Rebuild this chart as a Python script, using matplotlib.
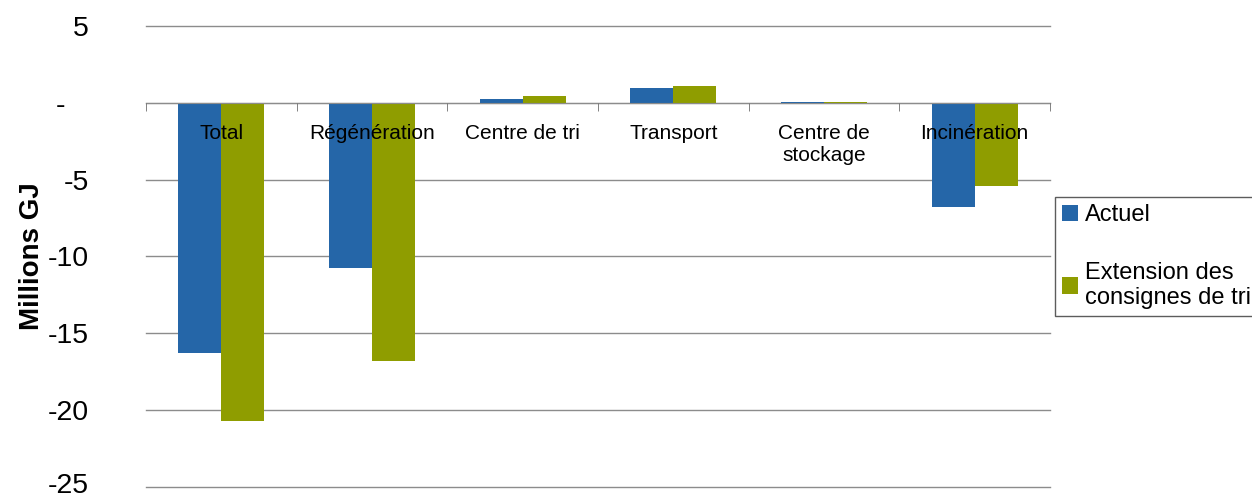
import matplotlib.pyplot as plt
import matplotlib.transforms as mtransforms
import numpy as np

# données
categories = ["Total", "Régénération", "Centre de tri", "Transport", "Centre de\nstockage", "Incinération"]
actuel = [-16.3, -10.75, 0.26, 0.98, 0.06, -6.8]
extension = [-20.7, -16.8, 0.45, 1.1, 0.05, -5.4]
yticks = [5, 0, -5, -10, -15, -20, -25]
ytick_labels = ["5", "-   ", "-5", "-10", "-15", "-20", "-25"]

plt.rcParams["font.family"] = ["Liberation Sans", "DejaVu Sans"]

fig = plt.figure(figsize=(12.52, 4.98), dpi=100, facecolor="white")
ax = fig.add_axes([0.1166, 0.0221, 0.7221, 0.9257])

x = np.arange(len(categories))
w = 0.285
ax.bar(x - w / 2, actuel, width=w, color="#2566A8", label="Actuel", zorder=1)
ax.bar(x + w / 2, extension, width=w, color="#8F9D00",
       label="Extension des\nconsignes de tri", zorder=1)

ax.set_xlim(-0.5, len(categories) - 0.5)
ax.set_ylim(-25, 5)

# quadrillage derrière les barres
for yv in yticks:
    ax.axhline(yv, color="#8c8c8c", linewidth=1, zorder=0, clip_on=False)
ax.set_axisbelow(False)

# axe y
ax.set_yticks(yticks)
ax.set_yticklabels(ytick_labels, fontsize=20.5)
ax.tick_params(axis="y", length=0, pad=41)
ax.set_ylabel("Millions GJ", fontsize=20, fontweight="bold")
ax.yaxis.set_label_coords(-0.112, 0.5)
# remonter un peu le dernier libellé pour qu'il ne soit pas coupé
lab = ax.get_yticklabels()[-1]
lab.set_transform(lab.get_transform() + mtransforms.ScaledTranslation(0, 3 / 72, fig.dpi_scale_trans))

# axe x sur la ligne zéro
for s in ["left", "right", "top"]:
    ax.spines[s].set_visible(False)
ax.spines["bottom"].set_position(("data", 0))
ax.spines["bottom"].set_color("#8c8c8c")
ax.set_xticks(x)
ax.set_xticklabels(categories, fontsize=15, va="top")
ax.tick_params(axis="x", length=0, pad=15)
ax.set_xticks(np.arange(len(categories) + 1) - 0.5, minor=True)
ax.tick_params(axis="x", which="minor", length=6, color="#6e6e6e", direction="out")

leg = ax.legend(loc="center left", bbox_to_anchor=(1.005, 0.5), fontsize=17,
                frameon=True, fancybox=False, edgecolor="#333333",
                handlelength=0.7, handleheight=0.7, handletextpad=0.3,
                borderpad=0.3, labelspacing=1.5, borderaxespad=0)
leg.get_frame().set_linewidth(1)

plt.savefig("out.png", dpi=100)
